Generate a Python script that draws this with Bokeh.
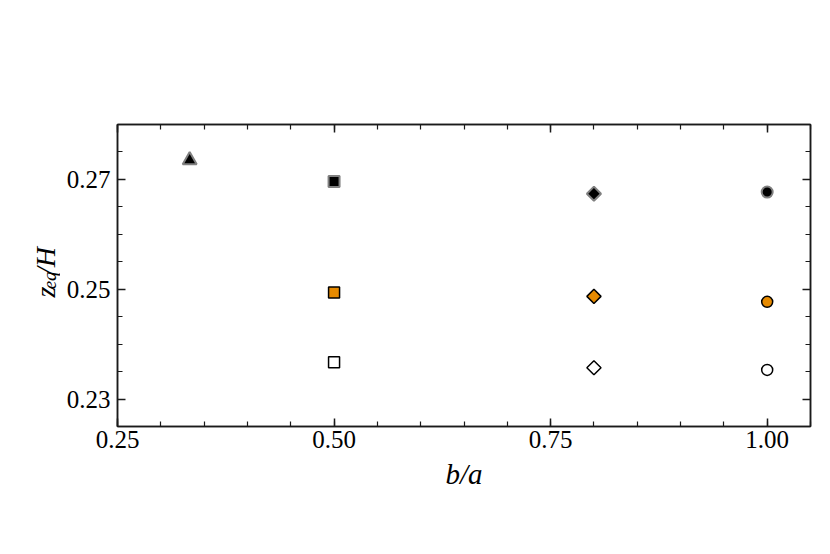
import numpy as np
from bokeh.plotting import figure
from bokeh.layouts import row
from bokeh.models import FixedTicker, LinearAxis, Range1d, NumeralTickFormatter
from bokeh.core.properties import value
from bokeh.embed import file_html
from bokeh.resources import INLINE

# ---- data ----
aspect_ratio = [1/3, 0.5, 0.8, 1.0]          # b/a
marker_shape = ["triangle", "square", "diamond", "circle"]
z_dark = [0.2735, 0.2696, 0.2674, 0.2677]     # black markers, grey edge
z_orange = [None, 0.2494, 0.2487, 0.2477]     # orange markers
z_open = [None, 0.2367, 0.2357, 0.2353]       # open markers

x_ticks = [0.25, 0.50, 0.75, 1.00]
y_ticks = [0.23, 0.25, 0.27]
x_minor = [round(0.25 + 0.05 * i, 3) for i in range(17)]
y_minor = [round(0.225 + 0.005 * i, 4) for i in range(12)]

# y-axis label pieces: z_{eq}/H
ylabel_parts = ["z", "eq", "/H"]

X0, X1 = 0.25, 1.05
Y0, Y1 = 0.225, 0.28

FONT = "Liberation Serif"
EDGE = "#1a1a1a"

H = 546
LW = 60                      # width of the strip holding the y-axis label
W = 822 - LW
BL, BR, BT, BB = 117 - LW, 12, 124, 120

p = figure(width=W, height=H,
           x_range=Range1d(X0, X1), y_range=Range1d(Y0, Y1),
           output_backend="svg", toolbar_location=None,
           min_border_left=BL, min_border_right=BR,
           min_border_top=BT, min_border_bottom=BB)
p.grid.visible = False
p.outline_line_color = EDGE
p.outline_line_width = 1.5
p.background_fill_color = "white"
p.border_fill_color = "white"


def style_axis(ax, ticks, minor, show_labels):
    ax.ticker = FixedTicker(ticks=ticks, minor_ticks=minor)
    ax.formatter = NumeralTickFormatter(format="0.00")
    ax.axis_line_width = 1.5
    ax.axis_line_color = EDGE
    ax.major_tick_in = 8
    ax.major_tick_out = 0
    ax.minor_tick_in = 5
    ax.minor_tick_out = 0
    ax.major_tick_line_width = 1.5
    ax.minor_tick_line_width = 1.2
    ax.major_tick_line_color = EDGE
    ax.minor_tick_line_color = EDGE
    ax.major_label_text_font = FONT
    if show_labels:
        ax.major_label_text_color = "black"
        ax.major_label_text_font_size = "25px"
    else:
        ax.major_label_text_color = None
        ax.major_label_text_font_size = "1px"
        ax.major_label_standoff = 0


bottom_ax = p.xaxis[0]
left_ax = p.yaxis[0]
style_axis(bottom_ax, x_ticks, x_minor, True)
style_axis(left_ax, y_ticks, y_minor, True)
bottom_ax.major_label_standoff = 4
left_ax.major_label_standoff = 7

bottom_ax.axis_label = "b/a"
bottom_ax.axis_label_text_font = FONT
bottom_ax.axis_label_text_font_style = "italic"
bottom_ax.axis_label_text_font_size = "29px"
bottom_ax.axis_label_standoff = 7
bottom_ax.axis_label_text_color = "black"

top_ax = LinearAxis()
right_ax = LinearAxis()
style_axis(top_ax, x_ticks, x_minor, False)
style_axis(right_ax, y_ticks, y_minor, False)
p.add_layout(top_ax, "above")
p.add_layout(right_ax, "right")

# ---- markers ----
series = [
    (z_dark, "black", "#808080", 2.0),
    (z_orange, "#E68A00", "black", 1.5),
    (z_open, "white", "black", 1.5),
]
shape_style = {
    "triangle": dict(marker="triangle", size=14, angle=0.0),
    "square": dict(marker="square", size=11, angle=0.0),
    "diamond": dict(marker="square", size=10, angle=np.pi / 4),
    "circle": dict(marker="circle", size=11, angle=0.0),
}
for values, fill, edge, lw in series:
    for xv, yv, shape in zip(aspect_ratio, values, marker_shape):
        if yv is None:
            continue
        st = shape_style[shape]
        p.scatter([xv], [yv], marker=st["marker"], size=st["size"], angle=st["angle"],
                  fill_color=fill, line_color=edge, line_width=lw)

# ---- strip on the left carrying the rotated y-axis label (pixel coordinates) ----
lab = figure(width=LW, height=H, x_range=Range1d(0, LW), y_range=Range1d(0, H),
             output_backend="svg", toolbar_location=None,
             x_axis_type=None, y_axis_type=None,
             min_border=0, min_border_left=0, min_border_right=0,
             min_border_top=0, min_border_bottom=0)
lab.grid.visible = False
lab.outline_line_color = None
lab.background_fill_color = "white"
lab.border_fill_color = "white"

piece_x = [45, 49, 45]
piece_y = [233, 248, 274]
piece_size = ["28px", "19px", "28px"]
for t, xx, yy, fs in zip(ylabel_parts, piece_x, piece_y, piece_size):
    lab.text(x=[xx], y=[yy], text=[t], angle=np.pi / 2,
             text_align="left", text_baseline="alphabetic",
             text_font=value(FONT), text_font_style="italic",
             text_font_size=fs, text_color="black")

layout = row(lab, p, spacing=0)
open("out.html", "w").write(file_html(layout, INLINE))
